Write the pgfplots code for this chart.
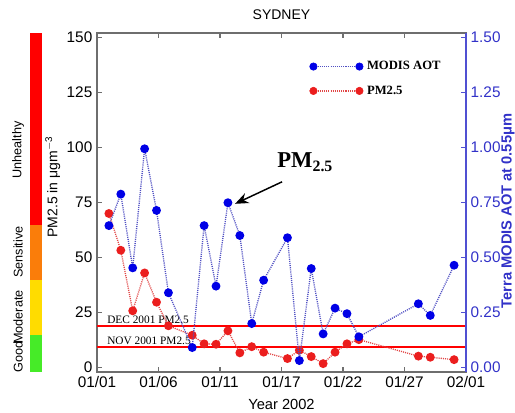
\documentclass[border=0pt]{standalone}
\usepackage{pgfplots}
\pgfplotsset{compat=1.18}
\usepackage{pgfplotstable}
\usepackage{fontspec}
\setmainfont{Liberation Sans}
\newfontfamily\seriffont{Liberation Serif}
\usetikzlibrary{arrows.meta}
\definecolor{aotblue}{RGB}{0,0,230}
\definecolor{aotline}{RGB}{80,80,195}
\definecolor{pmred}{RGB}{235,30,30}
\definecolor{pmline}{RGB}{225,70,70}
\definecolor{axblue}{RGB}{80,80,210}
\definecolor{axtick}{RGB}{50,50,200}
\definecolor{axgray}{RGB}{110,110,110}
\definecolor{cbred}{RGB}{255,0,0}
\definecolor{cborange}{RGB}{250,125,10}
\definecolor{cbyellow}{RGB}{255,220,0}
\definecolor{cbgreen}{RGB}{70,235,40}

\pgfplotstableread{
d pm
1 70
2 53.3
3 25.8
4 43
5 29.7
6 19
8 14.7
9 10.8
10 10.6
11 16.7
12 6.7
13 9.5
14 7
16 4.1
17 7.9
18 5
19 1.8
20 7
21 10.8
22 12.7
27 5.2
28 4.7
30 3.6
}\pmdata

\pgfplotstableread{
d aot
1 0.645
2 0.788
3 0.453
4 0.994
5 0.714
6 0.34
8 0.091
9 0.645
10 0.37
11 0.749
12 0.60
13 0.20
14 0.397
16 0.59
17 0.032
18 0.45
19 0.153
20 0.27
21 0.245
22 0.14
27 0.29
28 0.237
30 0.465
}\aotdata

\begin{document}
\begin{tikzpicture}
\begin{axis}[
  at={(0pt,0pt)}, anchor=south west,
  scale only axis, width=276.75pt, height=254.25pt,
  xmin=0, xmax=31, ymin=-2, ymax=152,
  xtick={0,5.16667,10.33333,15.5,20.66667,25.83333,31},
  xticklabels={01/01,01/06,01/11,01/17,01/22,01/27,02/01},
  ytick={0,25,50,75,100,125,150},
  tick align=inside, xtick pos=both, ytick pos=left,
  xticklabel pos=left,
  major tick length=4pt,
  axis line style={axgray, line width=0.8pt},
  tick style={axgray, line width=0.8pt},
  tick label style={font=\fontsize{11.5}{13}\selectfont, black},
  /pgf/number format/assume math mode=true,
  xlabel={Year 2002},
  xlabel style={font=\fontsize{11}{13}\selectfont, at={(axis description cs:0.5,-0.097)}, anchor=center},
  ylabel={PM2.5 in μgm\textsuperscript{$-$3}},
  ylabel style={font=\fontsize{10.5}{12}\selectfont, at={(axis description cs:-0.12,0.546)}, anchor=center},
  clip=false,
  legend style={draw=none, fill=none, at={(axis description cs:0.575,0.925)}, anchor=north west,
    font=\seriffont\bfseries\fontsize{9.5}{11}\selectfont, row sep=6.5pt, inner sep=0pt},
  legend cell align=left,
]
% colour bar
\fill[cbgreen] (axis cs:-5.63,-2) rectangle (axis cs:-4.62,15);
\fill[cbyellow] (axis cs:-5.63,15) rectangle (axis cs:-4.62,40);
\fill[cborange] (axis cs:-5.63,40) rectangle (axis cs:-4.62,65);
\fill[cbred] (axis cs:-5.63,65) rectangle (axis cs:-4.62,152);
\node[rotate=90, font=\fontsize{9.5}{11}\selectfont] at (axis description cs:-0.214,0.044) {Good};
\node[rotate=90, font=\fontsize{9.5}{11}\selectfont] at (axis description cs:-0.214,0.162) {Moderate};
\node[rotate=90, font=\fontsize{9.5}{11}\selectfont] at (axis description cs:-0.214,0.354) {Sensitive};
\node[rotate=90, font=\fontsize{9.5}{11}\selectfont] at (axis description cs:-0.214,0.655) {Unhealthy};
\node[font=\fontsize{10.5}{12}\selectfont] at (axis description cs:0.5,1.053) {SYDNEY};

% reference lines
\addplot[cbred, line width=1.3pt, forget plot] coordinates {(0,19) (31,19)};
\addplot[cbred, line width=1.3pt, forget plot] coordinates {(0,9.5) (31,9.5)};
\node[anchor=base west, font=\seriffont\fontsize{8.5}{10}\selectfont, inner sep=0pt, yshift=2pt] at (axis cs:0.84,19) {DEC 2001 PM2.5};
\node[anchor=base west, font=\seriffont\fontsize{8.5}{10}\selectfont, inner sep=0pt, yshift=2pt] at (axis cs:0.84,9.5) {NOV 2001 PM2.5};

\addplot[pmline, line width=1pt, dash pattern=on 0.8pt off 0.8pt, mark=*, mark size=2.8pt,
  mark options={solid, fill=pmred, draw=pmred}, forget plot] table[x=d,y=pm]{\pmdata};

\addlegendimage{legend image code/.code={
  \draw[aotline, line width=1pt, dash pattern=on 0.8pt off 0.8pt] (0pt,0pt) -- (34.5pt,0pt);
  \fill[aotblue] (0pt,0pt) circle (2.8pt);
  \fill[aotblue] (34.5pt,0pt) circle (2.8pt);
  \path (38pt,0pt);}}
\addlegendentry{MODIS AOT}
\addlegendimage{legend image code/.code={
  \draw[pmline, line width=1pt, dash pattern=on 0.8pt off 0.8pt] (0pt,0pt) -- (34.5pt,0pt);
  \fill[pmred] (0pt,0pt) circle (2.8pt);
  \fill[pmred] (34.5pt,0pt) circle (2.8pt);
  \path (38pt,0pt);}}
\addlegendentry{PM2.5}

% annotation
\node[anchor=base west, font=\seriffont\bfseries\fontsize{17}{20}\selectfont, inner sep=0pt] at (axis cs:15.13,90.7) {PM\textsubscript{2.5}};
\draw[-{Stealth[length=10pt,width=8pt]}, line width=1.1pt] (axis cs:15.55,84.4) -- (axis cs:11.6,74.4);
\end{axis}

\begin{axis}[
  at={(0pt,0pt)}, anchor=south west,
  scale only axis, width=276.75pt, height=254.25pt,
  xmin=0, xmax=31, ymin=-0.02, ymax=1.52,
  axis x line=none, axis y line*=right,
  ytick={0,0.25,0.5,0.75,1,1.25,1.5},
  yticklabel style={/pgf/number format/.cd, fixed, fixed zerofill, precision=2},
  tick align=inside, major tick length=4pt,
  axis line style={axblue, line width=0.8pt},
  tick style={axblue, line width=0.8pt},
  tick label style={font=\fontsize{11.5}{13}\selectfont, axtick},
  /pgf/number format/assume math mode=true,
  ylabel={Terra MODIS AOT at 0.55μm},
  ylabel style={font=\bfseries\fontsize{11}{13}\selectfont, axtick, at={(axis description cs:1.114,0.475)}, anchor=center},
  clip=false,
]
\addplot[aotline, line width=1pt, dash pattern=on 0.8pt off 0.8pt, mark=*, mark size=2.8pt,
  mark options={solid, fill=aotblue, draw=aotblue}] table[x=d,y=aot]{\aotdata};
\end{axis}
\pgfresetboundingbox
\useasboundingbox (-72.75pt,-30.75pt) rectangle (313.5pt,279pt);
\end{tikzpicture}
\end{document}
